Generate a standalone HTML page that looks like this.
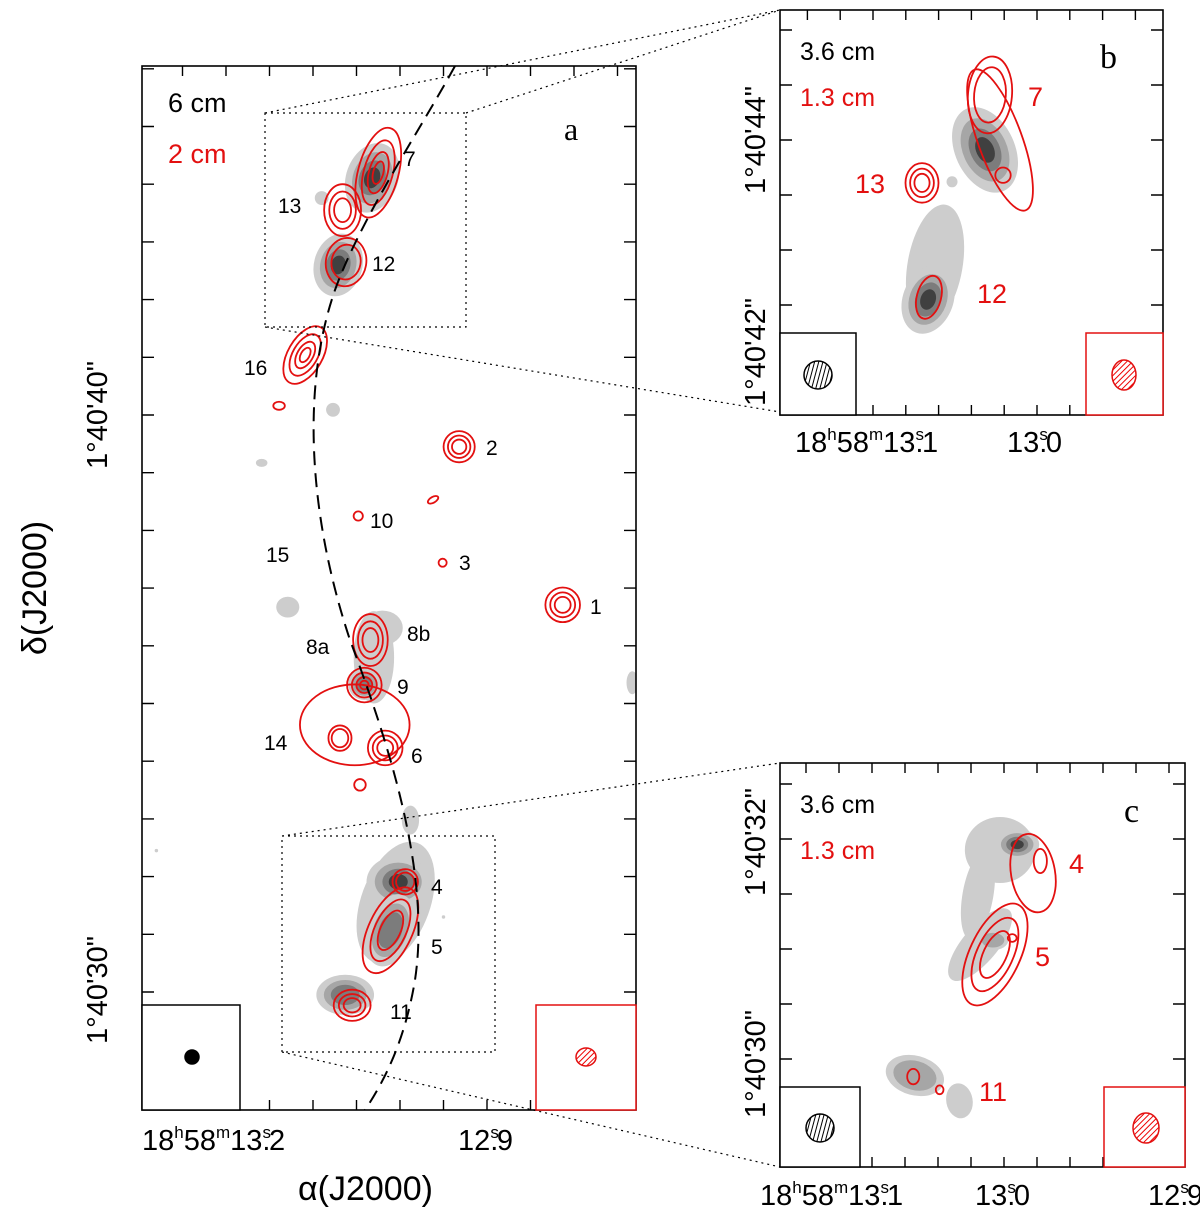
<!DOCTYPE html>
<html><head><meta charset="utf-8"><style>
html,body{margin:0;padding:0;background:#fff;}
svg{display:block;font-family:"Liberation Sans",sans-serif;}
</style></head>
<body>
<svg id="fig" width="1200" height="1215" viewBox="0 0 1200 1215" xmlns="http://www.w3.org/2000/svg">
<defs>
<pattern id="hb" width="4" height="4" patternUnits="userSpaceOnUse" patternTransform="rotate(15)"><rect width="4" height="4" fill="#fff"/><line x1="0" y1="0" x2="0" y2="4" stroke="#000" stroke-width="2"/></pattern>
<pattern id="hr" width="4" height="4" patternUnits="userSpaceOnUse" patternTransform="rotate(45)"><rect width="4" height="4" fill="#fff"/><line x1="0" y1="0" x2="0" y2="4" stroke="#e00" stroke-width="2"/></pattern>
<clipPath id="ca"><rect x="142" y="66" width="494" height="1044"/></clipPath>
<clipPath id="cb"><rect x="780" y="10" width="383" height="405"/></clipPath>
<clipPath id="cc"><rect x="780" y="763" width="405" height="404"/></clipPath>
</defs>
<g id="layer"></g>
</svg>
<script>
// ---- Data (RA seconds, Dec arcsec beyond 1°40', sizes in arcsec, angle deg, contour levels) ----
const aGrayRA  =[13.032,13.090,13.071,13.030,13.041,13.020,13.129,13.159,12.988,12.733,13.077,13.005,13.002,13.011,13.063,13.28,12.950];
const aGrayDec =[44.11, 43.76, 42.60, 35.80, 35.34, 36.31, 36.67, 39.17, 32.98, 35.36, 40.09, 31.55, 31.91, 31.07, 29.95, 32.45, 31.30];
const aGrayRx  =[0.45,0.12,0.42,0.35,0.28,0.35,0.2,0.1,0.15,0.1,0.12,0.6,0.55,0.4,0.5,0.03,0.03];
const aGrayRy  =[0.62,0.12,0.55,0.8,0.28,0.3,0.18,0.07,0.25,0.2,0.12,1.1,0.45,0.65,0.35,0.03,0.03];
const aGrayAng =[20,0,15,0,0,0,0,0,0,0,0,20,0,20,0,0,0];
const aGrayLev =[4,1,4,1,3,1,1,1,1,1,1,1,4,3,3,1,1];

const aRedRA  =[13.025,13.066,13.062,13.109,13.139,12.932,12.962,13.048,12.951,12.813,13.052,13.034,13.041,13.069,13.017,13.046,12.994,13.011,13.055];
const aRedDec =[44.20, 43.55, 42.65, 41.04, 40.16, 39.45, 38.53, 38.25, 37.44, 36.71, 34.63, 36.10, 35.32, 34.40, 34.23, 33.59, 31.91, 31.07, 29.77];
const aRedRx  =[0.35,0.32,0.35,0.3,0.1,0.27,0.1,0.08,0.07,0.3,0.95,0.3,0.3,0.2,0.3,0.1,0.22,0.38,0.32];
const aRedRy  =[0.8,0.45,0.42,0.55,0.07,0.27,0.05,0.08,0.07,0.3,0.7,0.45,0.3,0.22,0.3,0.1,0.22,0.8,0.27];
const aRedAng =[15,0,10,30,0,0,-30,0,0,0,0,0,0,0,0,0,0,25,0];
const aRedLev =[4,3,2,4,1,3,1,1,1,3,1,3,4,2,3,1,2,3,3];

const bGrayRA  =[13.0315,13.0618,13.066,13.0515];
const bGrayDec =[43.91,42.86,42.55,43.62];
const bGrayRx  =[0.27,0.25,0.23,0.05];
const bGrayRy  =[0.41,0.56,0.32,0.05];
const bGrayAng =[-25,10,20,0];
const bGrayLev =[4,1,4,1];

const bRedRA  =[13.0224,13.0285,13.0206,13.0697,13.0655];
const bRedDec =[44.0,44.41,43.68,43.61,42.57];
const bRedRx  =[0.2,0.2,0.07,0.15,0.11];
const bRedRy  =[0.68,0.35,0.07,0.18,0.2];
const bRedAng =[-20,5,0,0,15];
const bRedLev =[1,2,1,3,1];

const cGrayRA  =[13.0024,13.0158,12.992,13.0145,13.0067,13.054,13.027];
const cGrayDec =[31.90,31.49,31.95,31.04,31.08,29.85,29.62];
const cGrayRx  =[0.32,0.14,0.2,0.16,0.14,0.27,0.12];
const cGrayRy  =[0.30,0.41,0.14,0.41,0.09,0.18,0.16];
const cGrayAng =[0,10,0,40,0,15,-10];
const cGrayLev =[1,1,4,1,2,2,1];

const cRedRA  =[12.9824,12.978,13.0055,12.995,13.055,13.039];
const cRedDec =[31.69,31.80,30.95,31.10,29.84,29.72];
const cRedRx  =[0.2,0.06,0.23,0.04,0.055,0.035];
const cRedRy  =[0.36,0.11,0.5,0.035,0.07,0.04];
const cRedAng =[-10,0,25,0,0,0];
const cRedLev =[1,1,3,1,1,1];

// ---- axis functions ----
const xa=ra=>487+(12.9-ra)*870, ya=d=>415-(d-40)*57.7, sa=57.7;
const xb=ra=>1037+(13.0-ra)*1650, yb=d=>140-(d-44)*110, sb=110;
const xc=ra=>1004+(13.0-ra)*1650, yc=d=>839-(d-32)*110, sc=110;

const NS='http://www.w3.org/2000/svg';
const layer=document.getElementById('layer');
function mk(tag,attrs,parent){const e=document.createElementNS(NS,tag);for(const k in attrs)e.setAttribute(k,attrs[k]);(parent||layer).appendChild(e);return e;}

const grayScale=[1,0.74,0.5,0.3], grayFill=['#cdcdcd','#a6a6a6','#7c7c7c','#404040'];
const redScale=[1,0.72,0.46,0.25];

function drawPanel(clip,X,Y,S,gRA,gDec,gRx,gRy,gAng,gLev,rRA,rDec,rRx,rRy,rAng,rLev,name){
  const g=mk('g',{'clip-path':'url(#'+clip+')'});
  
  
  for(let i=0;i<gRA.length;i++){
    const cx=X(gRA[i]),cy=Y(gDec[i]);
    for(let l=0;l<gLev[i];l++){
      const e=mk('ellipse',{cx:cx,cy:cy,rx:gRx[i]*S*grayScale[l],ry:gRy[i]*S*grayScale[l],fill:grayFill[l],transform:`rotate(${gAng[i]} ${cx} ${cy})`},g);
      
      
    }
  }
  for(let i=0;i<rRA.length;i++){
    const cx=X(rRA[i]),cy=Y(rDec[i]);
    for(let l=0;l<rLev[i];l++){
      const e=mk('ellipse',{cx:cx,cy:cy,rx:rRx[i]*S*redScale[l],ry:rRy[i]*S*redScale[l],fill:'none',stroke:'#e31010','stroke-width':1.8,transform:`rotate(${rAng[i]} ${cx} ${cy})`},g);
      
      
    }
  }
}
drawPanel('ca',xa,ya,sa,aGrayRA,aGrayDec,aGrayRx,aGrayRy,aGrayAng,aGrayLev,aRedRA,aRedDec,aRedRx,aRedRy,aRedAng,aRedLev,'panel-a');
drawPanel('cb',xb,yb,sb,bGrayRA,bGrayDec,bGrayRx,bGrayRy,bGrayAng,bGrayLev,bRedRA,bRedDec,bRedRx,bRedRy,bRedAng,bRedLev,'panel-b');
drawPanel('cc',xc,yc,sc,cGrayRA,cGrayDec,cGrayRx,cGrayRy,cGrayAng,cGrayLev,cRedRA,cRedDec,cRedRx,cRedRy,cRedAng,cRedLev,'panel-c');

// dashed arc in panel a
const arc=mk('path',{d:'M455,66 C420,130 360,220 335,290 C300,390 310,520 350,640 C395,760 430,880 415,980 C405,1040 385,1080 365,1110',fill:'none',stroke:'#000','stroke-width':2,'stroke-dasharray':'14,8','clip-path':'url(#ca)'});



// frames & ticks
function frame(x0,y0,x1,y1,xt0,xstep,yt0,ystep,name){
  const r=mk('rect',{x:x0,y:y0,width:x1-x0,height:y1-y0,fill:'none',stroke:'#000','stroke-width':1.6});
  
  
  let d='';
  for(let x=xt0-Math.floor((xt0-x0)/xstep)*xstep;x<x1-1;x+=xstep){if(x>x0+1)d+=`M${x},${y0}v10M${x},${y1}v-10`;}
  for(let y=yt0-Math.floor((yt0-y0)/ystep)*ystep;y<y1-1;y+=ystep){if(y>y0+1)d+=`M${x0},${y}h12M${x1},${y}h-12`;}
  const t=mk('path',{d:d,stroke:'#000','stroke-width':1.4,fill:'none'});
  
  
}
frame(142,66,636,1110,487,43.5,415,57.7,'panel-a');
frame(780,10,1163,415,1037,32.8,140,55,'panel-b');
frame(780,763,1185,1167,1004,33,839,55,'panel-c');

// zoom boxes & connectors
const zb=mk('path',{d:'M265,113H466V327H265ZM282,836H495V1052H282Z M265,113L780,10 M466,113L780,10 M265,327L780,412 M282,836L780,763 M282,1052L780,1167',fill:'none',stroke:'#000','stroke-width':1.2,'stroke-dasharray':'2,4'});



// beam boxes
function beam(bx,by,bw,bh,col,cx,cy,rx,ry,fill,name){
  const r=mk('rect',{x:bx,y:by,width:bw,height:bh,fill:'#fff',stroke:col,'stroke-width':1.5});
  
  
  const e=mk('ellipse',{cx:cx,cy:cy,rx:rx,ry:ry,fill:fill,stroke:col,'stroke-width':1.5});
  
  
}
beam(142,1005,98,105,'#000',192,1057,7,7,'#000','beam-a-6cm');
beam(536,1005,100,105,'#e31010',586,1057,10,9,'url(#hr)','beam-a-2cm');
beam(780,333,76,82,'#000',818,375,14,14,'url(#hb)','beam-b-3.6cm');
beam(1086,333,77,82,'#e31010',1124,375,12,15,'url(#hr)','beam-b-1.3cm');
beam(780,1087,80,80,'#000',820,1128,14,14,'url(#hb)','beam-c-3.6cm');
beam(1104,1087,81,80,'#e31010',1146,1128,13,15,'url(#hr)','beam-c-1.3cm');

// text helper
function txt(x,y,s,opts,name){
  const t=mk('text',Object.assign({x:x,y:y,'font-size':22,fill:'#000'},opts||{}));
  t.textContent=s;
  
  
  return t;
}
const R='#e31010';
txt(168,112,'6  cm',{'font-size':27,'xml:space':'preserve'},'legend-6cm');
txt(168,163,'2  cm',{'font-size':27,fill:R,'xml:space':'preserve'},'legend-2cm');
txt(564,140,'a',{'font-size':32,'font-family':'Liberation Serif,serif'},'panel-a-letter');
const aLab=[['7',404,166],['13',278,213],['12',372,271],['16',244,375],['2',486,455],['10',370,528],['15',266,562],['3',459,570],['1',590,614],['8a',306,654],['8b',407,641],['9',397,694],['14',264,750],['6',411,763],['4',431,894],['5',431,954],['11',390,1019]];
aLab.forEach(l=>txt(l[1],l[2],l[0],{'font-size':21},'source-label-'+l[0]));

txt(800,60,'3.6  cm',{'font-size':25,'xml:space':'preserve'},'legend-b-3.6cm');
txt(800,106,'1.3  cm',{'font-size':25,fill:R,'xml:space':'preserve'},'legend-b-1.3cm');
txt(1100,68,'b',{'font-size':34,'font-family':'Liberation Serif,serif'},'panel-b-letter');
txt(1028,106,'7',{'font-size':27,fill:R},'b-label-7');
txt(855,193,'13',{'font-size':27,fill:R},'b-label-13');
txt(977,303,'12',{'font-size':27,fill:R},'b-label-12');

txt(800,813,'3.6  cm',{'font-size':25,'xml:space':'preserve'},'legend-c-3.6cm');
txt(800,859,'1.3  cm',{'font-size':25,fill:R,'xml:space':'preserve'},'legend-c-1.3cm');
txt(1124,822,'c',{'font-size':34,'font-family':'Liberation Serif,serif'},'panel-c-letter');
txt(1069,873,'4',{'font-size':27,fill:R},'c-label-4');
txt(1035,966,'5',{'font-size':27,fill:R},'c-label-5');
txt(979,1101,'11',{'font-size':27,fill:R},'c-label-11');

// axis tick labels
function ylab(x,y,s,name){txt(0,0,s,{'font-size':29,'text-anchor':'middle',transform:`translate(${x},${y}) rotate(-90)`},name);}
ylab(107,415,'1°40\'40"','y-label-40');
ylab(107,990,'1°40\'30"','y-label-30');
ylab(765,140,'1°40\'44"','y-label-44');
ylab(765,352,'1°40\'42"','y-label-42');
ylab(765,842,'1°40\'32"','y-label-32');
ylab(765,1064,'1°40\'30"','y-label-c30');
function xlab(x,y,h,sec,frac,name){
  const t=mk('text',{x:x,y:y,'font-size':29,fill:'#000'});
  
  
  let html='';
  if(h)html+=`18<tspan dy="-12" font-size="17">h</tspan><tspan dy="12">58</tspan><tspan dy="-12" font-size="17">m</tspan><tspan dy="12">${sec}.</tspan>`;
  else html+=`${sec}.`;
  html+=`<tspan dy="-12" dx="-8" font-size="17">s</tspan><tspan dy="12" dx="-2">${frac}</tspan>`;
  t.innerHTML=html;
}
xlab(142,1150,true,'13','2','x-label-13.2');
xlab(458,1150,false,'12','9','x-label-12.9');
xlab(795,452,true,'13','1','x-label-b-13.1');
xlab(1007,452,false,'13','0','x-label-b-13.0');
xlab(760,1205,true,'13','1','x-label-c-13.1');
xlab(975,1205,false,'13','0','x-label-c-13.0');
xlab(1148,1205,false,'12','9','x-label-c-12.9');

txt(298,1200,'α(J2000)',{'font-size':34},'x-axis-title');
txt(0,0,'δ(J2000)',{'font-size':34,'text-anchor':'middle',transform:'translate(46,588) rotate(-90)'},'y-axis-title');
</script>
</body></html>
